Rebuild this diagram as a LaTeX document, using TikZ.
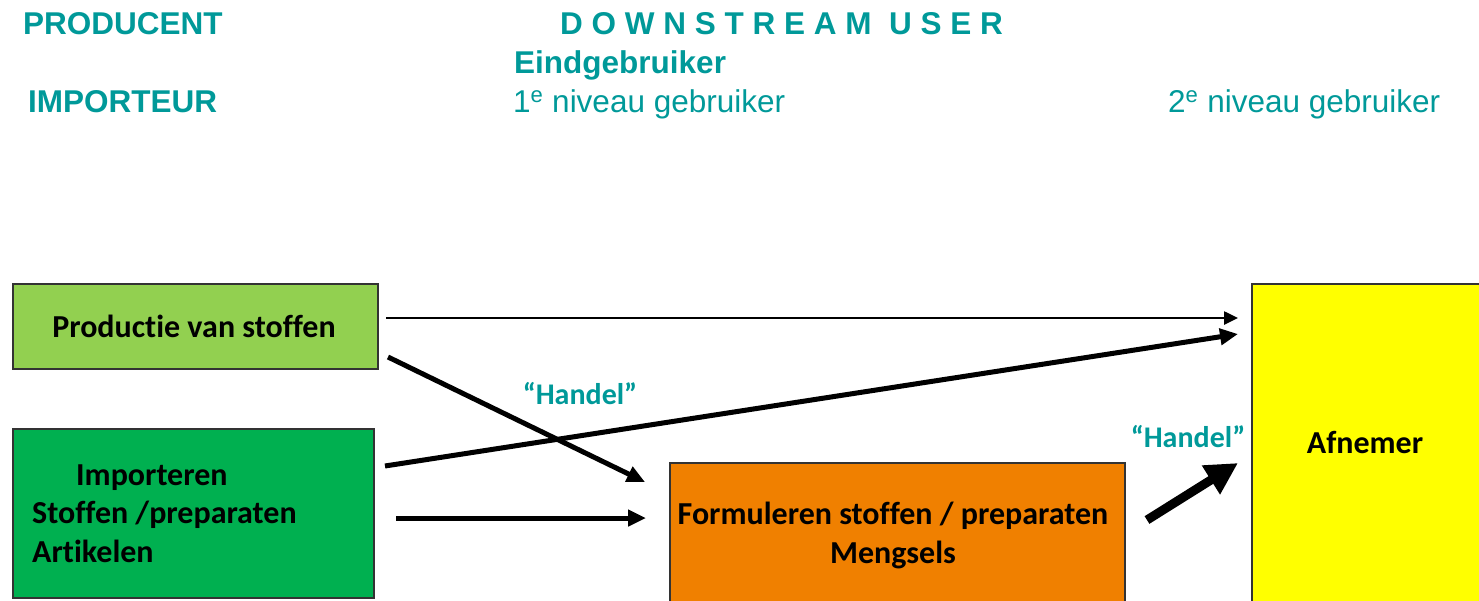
\documentclass[tikz,border=0pt]{standalone}
\usepackage{fontspec}
\usetikzlibrary{arrows.meta}
\newfontfamily\hdrfont{Liberation Sans}
\newfontfamily\calfont[Ligatures={NoCommon,NoContextual}]{Carlito}
\definecolor{teal1}{RGB}{0,153,153}
\definecolor{lgreen}{RGB}{146,208,80}
\definecolor{dgreen}{RGB}{0,176,80}
\definecolor{orng}{RGB}{240,128,0}
\definecolor{yell}{RGB}{255,255,0}
\tikzset{
  hdr/.style={anchor=base west, inner sep=0pt, text=teal1, font=\hdrfont\fontsize{31.5}{36}\selectfont},
  hdrb/.style={hdr, font=\hdrfont\bfseries\fontsize{31.5}{36}\selectfont},
  boxtxt/.style={inner sep=0pt, font=\calfont\bfseries\fontsize{32}{36}\selectfont},
  handel/.style={inner sep=0pt, text=teal1, font=\calfont\bfseries\fontsize{30}{34}\selectfont},
  box/.style={draw=black!80, line width=1.5pt, anchor=north west, inner sep=0pt},
  thinarr/.style={line width=2.5pt, -{Triangle[length=14pt,width=13pt]}},
  thickarr/.style={line width=5pt, -{Triangle[length=18pt,width=16pt]}},
  bigarr/.style={line width=9pt, -{Triangle[length=32pt,width=32pt]}},
}
\begin{document}
\begin{tikzpicture}[x=1pt,y=-1pt]
\useasboundingbox (0,0) rectangle (1479,600);
\clip (0,0) rectangle (1479,600);
% headers
\node[hdrb] (producent) at (23,34) {PRODUCENT};
\node[hdrb] (importeur) at (28,112) {IMPORTEUR};
\node[hdrb] (dsu) at (560,34) {D O W N S T R E A M \ U S E R};
\node[hdrb] (eind) at (514,73) {Eindgebruiker};
\node[hdr] (niv1) at (513,112) {1\textsuperscript{e} niveau gebruiker};
\node[hdr] (niv2) at (1168,112) {2\textsuperscript{e} niveau gebruiker};
% boxes
\node[box, fill=lgreen, minimum width=365pt, minimum height=85pt] (prod) at (12,283) {};
\node[box, fill=dgreen, minimum width=361pt, minimum height=169pt] (imp) at (12,428) {};
\node[box, fill=orng, minimum width=455pt, minimum height=160pt] (form) at (669,462) {};
\node[box, fill=yell, minimum width=240pt, minimum height=340pt] (afn) at (1251,283) {};
% box texts
\node[boxtxt, anchor=base] (tprod) at (194,337) {Productie van stoffen};
\node[boxtxt, anchor=base west] (timp1) at (76,485) {Importeren};
\node[boxtxt, anchor=base west] (timp2) at (32,523) {Stoffen /preparaten};
\node[boxtxt, anchor=base west] (timp3) at (32,562) {Artikelen};
\node[boxtxt, anchor=base] (tform1) at (893,524) {Formuleren stoffen / preparaten};
\node[boxtxt, anchor=base] (tform2) at (893,563) {Mengsels};
\node[boxtxt, anchor=base] (tafn) at (1365,453) {Afnemer};
% labels
\node[handel, anchor=base] (h1) at (580,404) {“Handel”};
\node[handel, anchor=base] (h2) at (1188,447) {“Handel”};
% connector end points
\coordinate (a1s) at (386,318);
\coordinate (a1e) at (1238,318);
\coordinate (a2s) at (388,357);
\coordinate (a2e) at (645,482);
\coordinate (a3s) at (385,466);
\coordinate (a3e) at (1238,334);
\coordinate (a4s) at (396,518);
\coordinate (a4e) at (646,518);
\coordinate (a5s) at (1147,520);
\coordinate (a5e) at (1238,463);
\draw[thinarr] (a1s) -- (a1e);
\draw[thickarr] (a2s) -- (a2e);
\draw[thickarr] (a3s) -- (a3e);
\draw[thickarr] (a4s) -- (a4e);
\draw[bigarr] (a5s) -- (a5e);
\end{tikzpicture}
\end{document}
